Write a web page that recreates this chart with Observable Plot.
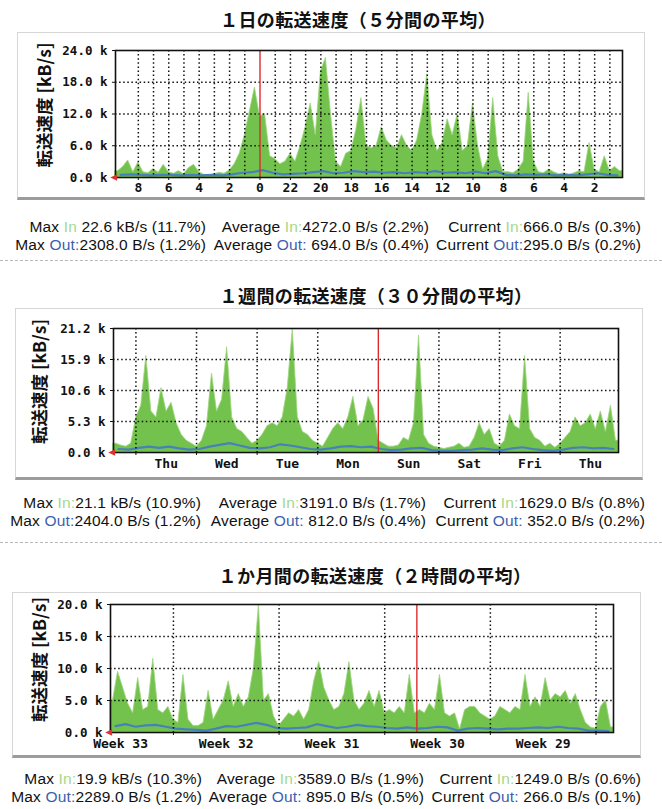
<!DOCTYPE html>
<html>
<head>
<meta charset="utf-8">
<script src="https://cdn.jsdelivr.net/npm/d3@7"></script>
<script src="https://cdn.jsdelivr.net/npm/@observablehq/plot@0.6"></script>
<style>
  html, body { margin: 0; padding: 0; background: #fff; }
  #page { position: relative; width: 662px; height: 809px; overflow: hidden; background: #fff; }
  .title { position: absolute; width: 420px; text-align: center; font-family: "Noto Sans CJK JP", sans-serif; font-size: 18px; letter-spacing: 0.4px; font-weight: bold; line-height: 24px; color: #111; }
  .box { position: absolute; box-sizing: border-box; border: 1px solid #d6d6d6; border-bottom: 3px solid #9c9c9c; }
  .sep { position: absolute; left: 0; width: 662px; height: 0; border-top: 1px dashed #b8b8b8; }
  .cell { position: absolute; white-space: pre; font-family: "Liberation Sans", Arial, sans-serif; font-size: 15.5px; letter-spacing: 0.15px; line-height: 15px; color: #111; text-align: right; }
  .in { color: #a6d88a; }
  .out { color: #3b5fae; }
  svg { position: absolute; left: 0; overflow: visible; }
</style>
</head>
<body>
<div id="page"></div>
<script>
// ---- data (kB/s), newest sample on the left ----
const dayIn = [1.2,2.0,3.2,1.0,2.8,1.0,0.8,1.6,0.9,2.4,
  1.0,0.7,1.2,0.6,1.8,2.4,1.0,0.5,0.4,0.6,
  0.9,0.7,1.3,2.5,4.5,8.0,12.5,17.0,11.5,12.0,
  4.0,3.5,2.5,3.0,4.5,3.0,6.0,9.5,14.0,8.0,
  20.0,22.6,12.0,3.0,2.0,4.5,5.0,9.0,15.0,6.0,
  5.5,6.0,9.5,7.0,6.0,5.5,8.0,6.0,5.0,7.0,
  12.0,19.5,8.0,5.0,6.5,11.0,8.0,12.0,5.0,6.0,
  14.0,6.0,1.5,3.5,15.0,4.0,1.0,1.0,0.8,1.5,
  3.0,16.0,3.0,1.0,0.8,1.5,1.0,0.6,0.8,0.5,
  0.8,1.2,1.0,6.5,1.5,1.0,4.0,1.2,2.0,1.2];
const dayOut = [0.5,0.6,0.5,0.4,0.5,0.5,0.4,0.5,0.4,0.5,
  0.4,0.6,0.9,1.0,1.4,0.9,0.6,0.7,0.8,1.0,
  1.2,0.8,0.9,1.2,1.0,1.1,0.9,1.0,0.8,1.0,
  0.9,1.2,0.9,1.0,0.8,1.1,0.8,1.2,0.5,0.4,
  0.6,0.5,0.6,0.4,0.5,0.4,0.6,0.8,0.5,0.4];

const weekIn = [1.5,1.2,1.0,1.5,6.0,8.0,16.5,7.0,6.0,11.0,
  7.0,8.5,5.0,3.0,2.0,1.5,1.0,2.0,4.5,13.5,
  7.0,9.0,18.0,6.0,4.0,3.5,2.5,1.5,2.0,3.0,
  4.5,5.0,4.5,6.0,11.0,21.1,6.0,3.5,3.0,2.0,
  1.5,1.0,2.5,4.0,5.0,4.0,6.0,9.5,4.5,5.5,
  9.5,7.5,2.0,1.5,1.0,1.0,1.2,2.5,2.0,5.0,
  20.0,3.0,1.5,1.0,0.8,0.6,0.8,1.0,1.5,0.8,
  1.0,2.5,5.0,3.0,4.0,1.5,1.0,2.0,6.5,4.5,
  4.0,16.5,4.0,2.5,2.0,1.0,1.5,0.8,1.5,2.5,
  3.5,6.0,4.5,5.0,6.5,4.0,7.0,3.5,8.0,2.0];
const weekOut = [0.6,0.5,0.8,1.0,0.8,1.0,0.7,0.5,0.6,1.0,
  1.3,1.6,1.2,0.8,0.7,0.9,1.4,1.2,0.9,0.6,
  0.5,0.7,1.0,1.1,0.9,1.0,0.6,0.4,0.5,0.7,
  0.8,0.4,0.3,0.3,0.4,0.5,0.7,0.5,0.4,0.7,
  0.9,0.6,0.4,0.3,0.5,0.8,0.9,0.7,0.8,0.6];

const monthIn = [5.0,9.5,7.0,4.5,3.0,8.5,3.5,4.0,11.5,3.5,
  3.0,4.0,2.0,1.5,9.0,2.0,1.0,1.0,1.5,6.5,
  2.0,3.5,5.0,8.0,4.0,6.0,4.0,5.5,10.0,19.9,
  5.0,6.0,2.5,1.0,2.0,3.0,2.5,3.5,2.0,3.5,
  8.0,11.0,7.0,5.0,3.5,4.0,6.0,11.0,5.0,3.5,
  4.5,6.5,4.0,6.5,3.0,3.5,3.0,4.0,3.0,9.0,
  3.0,3.5,3.0,4.5,3.5,9.0,3.0,2.5,3.0,0.5,
  3.5,4.0,4.0,3.0,2.5,2.0,2.5,4.0,3.5,3.0,
  4.0,3.5,9.0,4.0,5.5,4.0,8.5,5.0,6.0,5.5,
  6.5,4.5,6.0,3.5,1.5,0.8,0.6,4.0,5.0,0.8];
const monthOut = [1.0,1.3,0.9,1.1,1.2,0.9,0.6,0.5,0.4,0.3,
  0.6,1.0,0.9,1.2,1.5,1.2,0.7,0.6,0.7,0.8,
  1.3,1.0,0.7,0.9,1.2,1.0,0.9,0.7,0.6,0.8,
  0.6,0.7,0.9,0.8,0.3,0.6,0.7,0.6,0.5,0.6,
  0.6,0.7,0.8,0.7,0.9,0.7,0.6,0.3,0.3,0.2];

// ---- axes ----
const dayYTicks = [0, 6, 12, 18, 24];
const weekYTicks = [0, 5.3, 10.6, 15.9, 21.2];
const monthYTicks = [0, 5, 10, 15, 20];

const dayXLabels = ["8","6","4","2","0","22","20","18","16","14","12","10","8","6","4","2"];
const dayXLabelPos = [1.5,3.5,5.5,7.5,9.5,11.5,13.5,15.5,17.5,19.5,21.5,23.5,25.5,27.5,29.5,31.5]; // hours ago
const dayGridPos = [1.5,2.5,3.5,4.5,5.5,6.5,7.5,8.5,10.5,11.5,12.5,13.5,14.5,15.5,16.5,17.5,18.5,19.5,20.5,21.5,22.5,23.5,24.5,25.5,26.5,27.5,28.5,29.5,30.5,31.5,32.5];
const dayRed = 9.5;

const weekXLabels = ["Thu","Wed","Tue","Mon","Sun","Sat","Fri","Thu"];
const weekXLabelPos = [0.87,1.87,2.87,3.87,4.87,5.87,6.87,7.87]; // days ago
const weekGridPos = [0.37,1.37,2.37,3.37,5.37,6.37,7.37];
const weekRed = 4.37;

const monthXLabels = ["Week 33","Week 32","Week 31","Week 30","Week 29"];
const monthXLabelPos = [0.67,7.67,14.67,21.67,28.67]; // days ago
const monthGridPos = [4.17,11.17,18.17,25.17,32.17];
const monthRed = 20.3;

// ---- text ----
const titles = ["１日の転送速度（５分間の平均）", "１週間の転送速度（３０分間の平均）", "１か月間の転送速度（２時間の平均）"];
const yLabel = "転送速度 [kB/s]";
const dayStats = [
  [["Max ","In"," 22.6 kB/s (11.7%)"],["Average ","In:","4272.0 B/s (2.2%)"],["Current ","In:","666.0 B/s (0.3%)"]],
  [["Max ","Out:","2308.0 B/s (1.2%)"],["Average ","Out:"," 694.0 B/s (0.4%)"],["Current ","Out:","295.0 B/s (0.2%)"]]
];
const weekStats = [
  [["Max ","In:","21.1 kB/s (10.9%)"],["Average ","In:","3191.0 B/s (1.7%)"],["Current ","In:","1629.0 B/s (0.8%)"]],
  [["Max ","Out:","2404.0 B/s (1.2%)"],["Average ","Out:"," 812.0 B/s (0.4%)"],["Current ","Out:"," 352.0 B/s (0.2%)"]]
];
const monthStats = [
  [["Max ","In:","19.9 kB/s (10.3%)"],["Average ","In:","3589.0 B/s (1.9%)"],["Current ","In:","1249.0 B/s (0.6%)"]],
  [["Max ","Out:","2289.0 B/s (1.2%)"],["Average ","Out:"," 895.0 B/s (0.5%)"],["Current ","Out:"," 266.0 B/s (0.1%)"]]
];

// ---- layout ----
const page = document.getElementById("page");

function addDiv(cls, css, html) {
  const d = document.createElement("div");
  d.className = cls;
  Object.assign(d.style, css);
  if (html !== undefined) d.innerHTML = html;
  page.appendChild(d);
  return d;
}

// left-pointing filled triangle (MRTG origin marker)
const leftTriangle = {
  draw(ctx, size) {
    const r = Math.sqrt(size / 3);
    ctx.moveTo(-r * 1.3, 0);
    ctx.lineTo(r * 0.8, -r);
    ctx.lineTo(r * 0.8, r);
    ctx.closePath();
  }
};

const panels = [
  {inV: dayIn, outV: dayOut, span: 33.33, ymax: 24, yTicks: dayYTicks,
   labels: dayXLabels, labelPos: dayXLabelPos, grid: dayGridPos, red: dayRed,
   title: titles[0], titleX: 358, titleY: 19,
   box: [17, 32, 628, 168],
   svgTop: 32, h: 170, mt: 18, mb: 25, ml: 115, mr: 40, labDy: 14, ylabDx: -70,
   stats: dayStats, statY: [227, 245], statRight: [206, 429, 641]},
  {inV: weekIn, outV: weekOut, span: 8.333, ymax: 21.2, yTicks: weekYTicks,
   labels: weekXLabels, labelPos: weekXLabelPos, grid: weekGridPos, red: weekRed,
   title: titles[1], titleX: 376, titleY: 295,
   box: [15, 308, 628, 172],
   svgTop: 308, h: 170, mt: 20, mb: 26, ml: 113, mr: 44, labDy: 15, ylabDx: -73,
   stats: weekStats, statY: [503, 521], statRight: [201, 426, 645]},
  {inV: monthIn, outV: monthOut, span: 33.33, ymax: 20, yTicks: monthYTicks,
   labels: monthXLabels, labelPos: monthXLabelPos, grid: monthGridPos, red: monthRed,
   title: titles[2], titleX: 375, titleY: 575,
   box: [12, 592, 629, 166],
   svgTop: 592, h: 166, mt: 12, mb: 26, ml: 110, mr: 49, labDy: 15, ylabDx: -70,
   stats: monthStats, statY: [779, 797], statRight: [202, 424, 641]}
];

addDiv("sep", {top: "260px"});
addDiv("sep", {top: "542px"});

for (const c of panels) {
  addDiv("title", {left: (c.titleX - 210) + "px", top: (c.titleY - 12) + "px"}, c.title);
  addDiv("box", {left: c.box[0] + "px", top: c.box[1] + "px", width: c.box[2] + "px", height: c.box[3] + "px"});

  const step = c.span / c.inV.length;
  const inRows = c.inV.map((v, i) => ({t: (i + 0.5) * step, v}));
  inRows.unshift({t: 0, v: c.inV[0]});
  inRows.push({t: c.span, v: c.inV[c.inV.length - 1]});
  const outStep = c.span / c.outV.length;
  const outRows = c.outV.map((v, j) => ({t: (j + 0.5) * outStep, v}));

  const dots = {stroke: "#111", strokeWidth: 1.5, strokeDasharray: "1.5,2.6"};
  const svg = Plot.plot({
    width: 662, height: c.h,
    marginLeft: c.ml, marginRight: c.mr, marginTop: c.mt, marginBottom: c.mb,
    x: {type: "linear", domain: [0, c.span], axis: null},
    y: {type: "linear", domain: [0, c.ymax], axis: null},
    style: {fontFamily: "'DejaVu Sans Mono', monospace", fontSize: "12.5px", fontWeight: "bold", color: "#111", background: "transparent"},
    marks: [
      Plot.areaY(inRows, {x: "t", y: "v", curve: "linear", fill: "#74c24e", stroke: "#9fd67f", strokeWidth: 0.8}),
      Plot.lineY(outRows, {x: "t", y: "v", stroke: "#4682b9", strokeWidth: 2.2}),
      Plot.ruleY(c.yTicks.slice(1, -1), dots),
      Plot.ruleX(c.grid, dots),
      Plot.ruleX([c.red], {stroke: "#dd2b2b", strokeWidth: 1.4}),
      Plot.frame({stroke: "#111", strokeWidth: 1.6}),
      Plot.axisY(c.yTicks, {anchor: "left", tickSize: 3, tickPadding: 5, label: null,
        tickFormat: d => d.toFixed(1) + " k"}),
      Plot.axisX(c.labelPos.length > 8 ? c.labelPos : c.grid, {anchor: "bottom", tickSize: 3, tickFormat: () => "", label: null}),
      Plot.text(c.labels, {x: (d, i) => c.labelPos[i], frameAnchor: "bottom", dy: c.labDy,
        fontSize: 13, fontWeight: "bold"}),
      Plot.text([yLabel], {frameAnchor: "left", dx: c.ylabDx, dy: -9, rotate: -90, textAnchor: "middle",
        fontFamily: "'Noto Sans CJK JP', sans-serif", fontSize: 17.5, fontWeight: "bold"}),
      Plot.dot([0], {x: 0, y: 0, dx: -1, symbol: leftTriangle, r: 3.2, fill: "#e03030", stroke: "none"})
    ]
  });
  svg.style.top = c.svgTop + "px";
  page.appendChild(svg);

  c.stats.forEach((row, r) => {
    row.forEach((cell, k) => {
      const cls = cell[1].startsWith("In") ? "in" : "out";
      addDiv("cell", {right: (662 - c.statRight[k]) + "px", top: (c.statY[r] - 8) + "px"},
        cell[0] + '<span class="' + cls + '">' + cell[1] + '</span>' + cell[2]);
    });
  });
}
</script>
</body>
</html>
